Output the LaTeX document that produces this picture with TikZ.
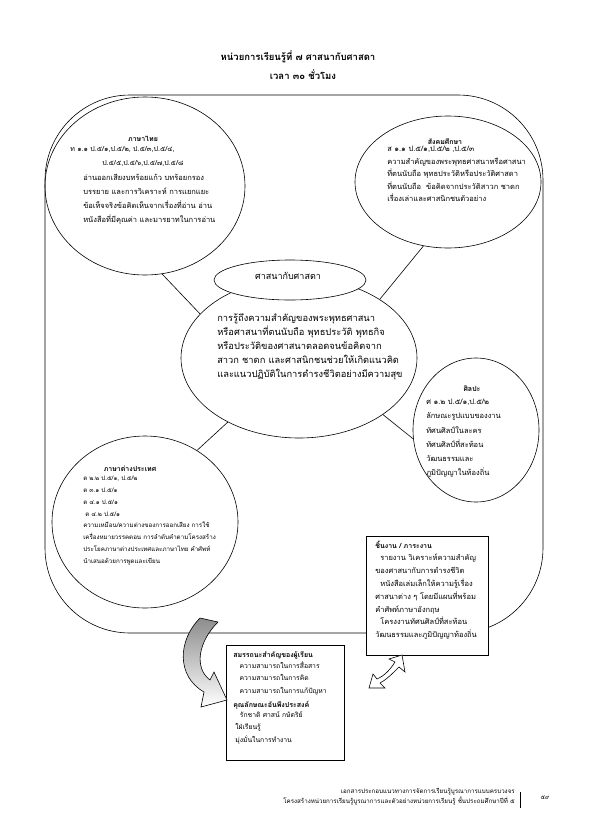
\documentclass[tikz,border=0pt]{standalone}
\usepackage{fontspec}
\setmainfont[Script=Thai]{Loma}
\usetikzlibrary{shapes.geometric}
\tikzset{
  bubble/.style={draw, ellipse, inner sep=0pt},
  boxed/.style={draw, fill=white, rectangle, inner sep=0pt, anchor=north west},
  headtext/.style={font=\bfseries\fontsize{9.5}{18}\selectfont, inner sep=0pt},
  smallhead/.style={font=\bfseries\fontsize{7}{12}\selectfont, inner sep=0pt},
  smalltext/.style={font=\fontsize{7.5}{#1}\selectfont, align=left, anchor=north west, inner sep=0pt},
  smalltext/.default=14,
}
\begin{document}
\begin{tikzpicture}[x=1pt, y=-1pt, line width=0.6pt]
\useasboundingbox (0,0) rectangle (595,836);
% -- title --
\node[headtext] (title) at (298,57) {หน่วยการเรียนรู้ที่ ๗ ศาสนากับศาสดา};
\node[headtext] (hours) at (303,75) {เวลา ๓๐ ชั่วโมง};
% -- frame --
\draw[rounded corners=85pt] (45,95) rectangle (543,633);
% -- bubbles --
\node[bubble, minimum width=200pt, minimum height=178pt] (thai) at (145,186) {};
\node[bubble, minimum width=186pt, minimum height=132pt] (social) at (448,182) {};
\node[bubble, minimum width=236pt, minimum height=160pt] (core) at (299,358) {};
\node[bubble, fill=white, minimum width=152pt, minimum height=40pt] (topic) at (290,280) {};
\node[bubble, minimum width=126pt, minimum height=144pt] (art) at (476,430) {};
\node[bubble, minimum width=186pt, minimum height=172pt] (foreign) at (145,522) {};
\draw (thai.-79) -- (core.156);
\draw (social.-111) -- (core.36);
\draw (core.-34) -- (art.188);
\draw (core.222) -- (foreign.54);
% -- centre --
\node[font=\fontsize{9}{14}\selectfont, inner sep=0pt] (topictext) at (288,276) {ศาสนากับศาสดา};
\node[font=\fontsize{9.3}{14}\selectfont, align=left, anchor=north west, inner sep=0pt] (coretext) at (217,313) {การรู้ถึงความสำคัญของพระพุทธศาสนา\\
หรือศาสนาที่ตนนับถือ พุทธประวัติ พุทธกิจ\\
หรือประวัติของศาสนาตลอดจนข้อคิดจาก\\
สาวก ชาดก และศาสนิกชนช่วยให้เกิดแนวคิด\\
และแนวปฏิบัติในการดำรงชีวิตอย่างมีความสุข};
% -- thai --
\node[smallhead] (thaihead) at (143,139) {ภาษาไทย};
\node[smalltext, font=\fontsize{7}{14}\selectfont] (thaicode) at (70,146) {ท ๑.๑ ป.๕/๑,ป.๕/๒, ป.๕/๓,ป.๕/๔,};
\node[smalltext, font=\fontsize{7}{14}\selectfont] (thaicode2) at (102,160) {ป.๕/๕,ป.๕/๖,ป.๕/๗,ป.๕/๘};
\node[smalltext] (thaitext) at (83,174) {อ่านออกเสียงบทร้อยแก้ว บทร้อยกรอง\\
บรรยาย และการวิเคราะห์ การแยกแยะ\\
ข้อเท็จจริงข้อคิดเห็นจากเรื่องที่อ่าน อ่าน\\
หนังสือที่มีคุณค่า และมารยาทในการอ่าน};
% -- social --
\node[smallhead] (socialhead) at (445,142) {สังคมศึกษา};
\node[smalltext=12.5] (socialtext) at (387,146) {ส ๑.๑ ป.๕/๑,ป.๕/๒ ,ป.๕/๓\\
ความสำคัญของพระพุทธศาสนาหรือศาสนา\\
ที่ตนนับถือ พุทธประวัติหรือประวัติศาสดา\\
ที่ตนนับถือ \ ข้อคิดจากประวัติสาวก ชาดก\\
เรื่องเล่าและศาสนิกชนตัวอย่าง};
% -- art --
\node[smallhead] (arthead) at (472,389) {ศิลปะ};
\node[smalltext=14.2] (arttext) at (426,399) {ศ ๑.๒ ป.๕/๑,ป.๕/๒\\
ลักษณะรูปแบบของงาน\\
ทัศนศิลป์ในละคร\\
ทัศนศิลป์ที่สะท้อน\\
วัฒนธรรมและ\\
ภูมิปัญญาในท้องถิ่น};
% -- foreign --
\node[smallhead] (foreignhead) at (130,469) {ภาษาต่างประเทศ};
\node[font=\fontsize{6.2}{11.8}\selectfont, align=left, anchor=north west, inner sep=0pt] (foreigntext) at (83,476) {ต ๒.๒ ป.๕/๑, ป.๕/๒\\
ต ๓.๑ ป.๕/๑\\
ต ๔.๑ ป.๕/๑\\
\ ต ๔.๒ ป.๕/๑\\
ความเหมือน/ความต่างของการออกเสียง การใช้\\
เครื่องหมายวรรคตอน การลำดับคำตามโครงสร้าง\\
ประโยคภาษาต่างประเทศและภาษาไทย คำศัพท์\\
นำเสนอด้วยการพูดและเขียน};
% -- work box --
\node[boxed, minimum width=122pt, minimum height=119pt] (work) at (366,536) {};
\node[smallhead, anchor=west] (workhead) at (375,545) {ชิ้นงาน / ภาระงาน};
\node[smalltext=12.8] (worktext) at (375,554) {\ \ รายงาน วิเคราะห์ความสำคัญ\\
ของศาสนากับการดำรงชีวิต\\
\ \ หนังสือเล่มเล็กให้ความรู้เรื่อง\\
ศาสนาต่าง ๆ โดยมีแผนที่พร้อม\\
คำศัพท์ภาษาอังกฤษ\\
\ \ โครงงานทัศนศิลป์ที่สะท้อน\\
วัฒนธรรมและภูมิปัญญาท้องถิ่น};
% -- skills box --
\node[boxed, minimum width=118pt, minimum height=115pt] (skills) at (226,645) {};
\node[smallhead, anchor=west] (skillshead) at (233,655) {สมรรถนะสำคัญของผู้เรียน};
\node[font=\fontsize{6.8}{12.4}\selectfont, align=left, anchor=north west, inner sep=0pt] (skillstext) at (237,661) {\ ความสามารถในการสื่อสาร\\
\ ความสามารถในการคิด\\
\ ความสามารถในการแก้ปัญหา};
\node[smallhead, anchor=west] (traithead) at (233,705) {คุณลักษณะอันพึงประสงค์};
\node[font=\fontsize{6.8}{12.4}\selectfont, align=left, anchor=north west, inner sep=0pt] (traittext) at (235,711) {\ \ รักชาติ ศาสน์ กษัตริย์\\
ใฝ่เรียนรู้\\
มุ่งมั่นในการทำงาน};
% -- arrows --
\shade[draw, top color=black!45, bottom color=white] (200,618) .. controls (178,640) and (176,676) .. (204,692) -- (201,707) -- (227,700) -- (214,672) -- (210,680) .. controls (194,668) and (198,642) .. (218,622) -- cycle;
\draw[fill=white] (402,655) -- (405,672) -- (399,667) .. controls (392,674) and (386,680) .. (380,683) -- (385,688) -- (369,688) -- (373,674) -- (377,679) .. controls (384,676) and (390,670) .. (395,662) -- (389,659) -- cycle;
% -- footer --
\node[font=\fontsize{6.2}{10}\selectfont, align=right, anchor=north east, inner sep=0pt] (footer) at (515,788) {เอกสารประกอบแนวทางการจัดการเรียนรู้บูรณาการแบบครบวงจร\\
โครงสร้างหน่วยการเรียนรู้บูรณาการและตัวอย่างหน่วยการเรียนรู้ ชั้นประถมศึกษาปีที่ ๕};
\draw[line width=1pt] (520,792) -- (520,808);
\node[font=\fontsize{6}{10}\selectfont, inner sep=0pt] (pageno) at (545,798) {๕๙};
\end{tikzpicture}
\end{document}
